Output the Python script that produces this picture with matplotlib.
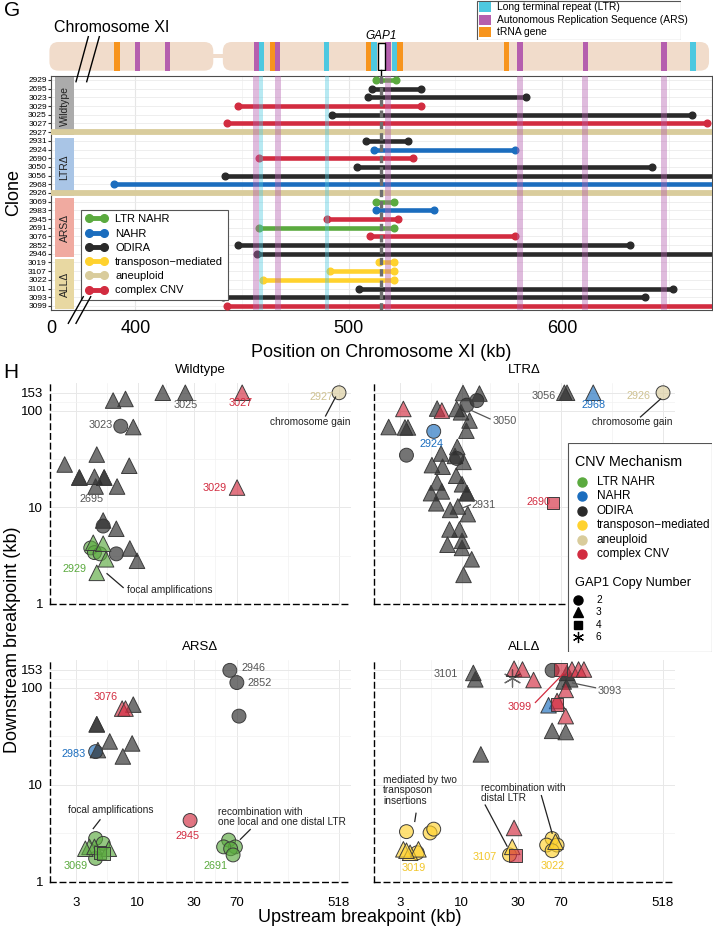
import numpy as np
import matplotlib.pyplot as plt
import matplotlib.colors as mcolors
import matplotlib.transforms as mtransforms
from matplotlib.patches import FancyBboxPatch, Rectangle
from matplotlib.lines import Line2D
from matplotlib.ticker import NullFormatter

plt.rcParams['font.family'] = ['Liberation Sans', 'DejaVu Sans']

W, H = 713, 933
fig = plt.figure(figsize=(W / 100, H / 100), dpi=100)


def box(l, t, r, b):
    # pixel box -> axes
    return fig.add_axes([l / W, 1 - b / H, (r - l) / W, (b - t) / H])


# ---------------- data ----------------
mech_names = ['LTR NAHR', 'NAHR', 'ODIRA', 'transposon\u2212mediated', 'aneuploid', 'complex CNV']
mech_codes = ['L', 'N', 'O', 'T', 'A', 'C']
mech_cols = ['#5BAA3F', '#1B6DBE', '#2A2A2A', '#FFD22E', '#D9CC9C', '#D22C40']
col = dict(zip(mech_codes, mech_cols))

clones = ['2929', '2695', '3023', '3029', '3025', '3027', '2927',
          '2931', '2924', '2690', '3050', '3056', '2968', '2926',
          '3069', '2983', '2945', '2691', '3076', '2852', '2946',
          '3019', '3107', '3022', '3101', '3093', '3099']
clone_mech = ['L', 'O', 'O', 'C', 'O', 'C', 'A',
              'O', 'N', 'C', 'O', 'O', 'N', 'A',
              'L', 'N', 'C', 'L', 'C', 'O', 'O',
              'T', 'T', 'T', 'O', 'O', 'C']
seg_start = [513, 511, 509, 448, 492, 443, 0,
             508, 512, 458, 504, 442, 390, 0,
             513, 513, 490, 458, 510, 448, 457,
             514, 491, 460, 505, 441, 443]
seg_end = [522, 534, 583, 534, 661, 668, 667,
           528, 578, 530, 642, 675, 675, 667,
           521, 540, 523, 521, 578, 632, 675,
           521, 521, 521, 652, 639, 675]

strains = ['Wildtype', 'LTR\u0394', 'ARS\u0394', 'ALL\u0394']
strain_n = [7, 7, 7, 6]
strain_cols = ['#ABABAB', '#A9C5E6', '#F0AAA0', '#E8D8A2']

trna_kb = [391.3, 464.4, 509.4, 524.0, 573.9]
ars_kb = [400.9, 415.0, 456.7, 466.7, 518.5, 580.3, 610.9, 647.9]
ltr_kb = [459.1, 489.6, 511.9, 521.5, 661.3]
ars_shade = [456.7, 466.7, 518.4, 580.3, 610.8, 647.8]
ltr_shade = [458.9, 489.7]
gap1_kb = (513.6, 516.9)
cen_left_kb, cen_right_kb = 436.5, 441.0
chr_end_kb = 668.9

# breakpoint scatter (upstream kb, downstream kb, mechanism, GAP1 copy number)
wt_up = [16.4, 25.5, 6.2, 7.9, 9.2, 7.2, 2.4, 4.5, 8.5, 3.2, 3.2, 4.3, 5.2, 5.2, 4.4, 6.7,
         5.1, 5.1, 6.6, 6.6, 8.6, 9.9,
         4.2, 5.1, 4.0, 4.3, 4.8, 5.4, 4.5, 77.7, 70.3, 518]
wt_down = [153, 153, 127, 132, 67.6, 69, 27.7, 35.1, 26.9, 20.3, 20.3, 20.7, 20.3, 20.3, 16.4, 16.4,
           7.3, 6.4, 6.0, 3.3, 3.75, 2.8,
           4.3, 4.2, 3.8, 3.4, 3.3, 2.9, 2.1, 153, 16.0, 153]
wt_mech = ['O'] * 22 + ['L'] * 7 + ['C', 'C', 'A']
wt_copy = [3, 3, 3, 3, 3, 2, 3, 3, 3, 3, 3, 3, 3, 3, 3, 3,
           3, 2, 3, 2, 3, 3,
           3, 3, 2, 2, 2, 3, 3, 3, 3, 2]

ltr_up = [10.3, 14.2, 13.5, 11.1, 9.1, 9.9, 11.7, 11.0, 6.2, 2.4, 3.3, 3.5, 3.4,
          9.2, 6.7, 8.8, 9.1, 10.4, 5.6, 6.9, 9.0, 6.2, 10.1, 5.5, 6.8, 11.1, 11.1,
          6.1, 8.0, 9.3, 11.3, 7.9, 9.6, 10.1, 7.6, 10.1, 12.2, 10.4, 75, 79,
          5.8, 132, 3.2, 6.8, 60, 518]
ltr_down = [152, 150, 127, 114, 104, 96, 79, 62, 105, 67.6, 67, 67, 34.6,
            42, 36, 34, 32, 29.5, 27.3, 26.3, 21.2, 18.1, 17.3, 14, 14.6, 14, 14,
            11.0, 9.4, 10.2, 8.5, 5.9, 5.9, 4.5, 4.1, 3.8, 2.9, 2.0, 153, 153,
            61, 153, 104, 100, 11.2, 153]
ltr_mech = ['O'] * 40 + ['N', 'N', 'C', 'C', 'C', 'A']
ltr_copy = [3, 3, 2, 2, 3, 3, 3, 3, 3, 3, 3, 3, 2,
            3, 3, 3, 2, 3, 3, 3, 3, 3, 3, 3, 3, 3, 3,
            3, 3, 3, 3, 3, 3, 3, 3, 3, 3, 3, 3, 3,
            2, 3, 3, 3, 4, 2]

ars_up = [61, 70, 73, 9.2, 4.5, 4.5, 5.8, 9.0, 4.6, 7.5,
          7.4, 7.9, 28, 4.4,
          4.4, 5.1, 4.4, 59.6, 68, 54, 62, 65, 3.9, 5.7, 3.6, 4.3, 4.8, 5.1]
ars_down = [151, 113, 51, 67, 42, 42, 28, 26.7, 22.8, 19.6,
            61, 61, 4.3, 22,
            2.8, 2.5, 1.75, 2.7, 2.3, 2.3, 2.2, 1.9, 2.3, 2.2, 2.2, 2.3, 2.0, 1.95]
ars_mech = ['O'] * 10 + ['C', 'C', 'C', 'N'] + ['L'] * 14
ars_copy = [2, 2, 2, 3, 3, 3, 3, 3, 3, 3,
            3, 3, 2, 2,
            2, 2, 2, 2, 2, 2, 2, 2, 3, 3, 3, 3, 4, 4]

all_up = [12.6, 13.1, 79, 84, 74, 59, 77, 14.6, 59, 26.8,
          28, 33, 41, 87, 99, 110, 77, 65, 77, 28, 70, 65, 28.7,
          55,
          3.4, 5.4, 5.8, 4.2, 25.6, 59, 53, 65, 59, 3.2, 3.65, 4.3, 3.4, 27, 63]
all_down = [142, 122, 142, 122, 116, 36, 35, 20.6, 151, 125,
            157, 154, 120, 154, 154, 154, 95, 73, 51, 3.6, 153, 67, 1.86,
            66,
            3.3, 3.2, 3.5, 2.0, 1.9, 2.8, 2.4, 2.4, 2.1, 2.17, 2.0, 2.17, 2.1, 2.3, 2.6]
all_mech = ['O'] * 10 + ['C'] * 13 + ['N'] + ['T'] * 15
all_copy = [3, 3, 3, 3, 3, 3, 3, 3, 2, 6,
            3, 3, 3, 3, 3, 3, 3, 3, 3, 3, 4, 4, 4,
            3,
            2, 2, 2, 2, 2, 2, 2, 2, 2, 3, 3, 3, 3, 3, 3]

copy_numbers = [2, 3, 4, 6]
copy_markers = {2: 'o', 3: '^', 4: 's', 6: (6, 2, 0)}
copy_sizes = {2: 100, 3: 125, 4: 85, 6: 150}

x_major = [3, 10, 30, 70, 518]
y_major = [1, 10, 100, 153]

# ---------------- panel G ----------------
XL = (360.4, 670.3)

# ideogram
axi = box(49, 41.7, 712, 71)
axi.set_xlim(359.5, XL[1])
axi.set_ylim(0, 13.74)
axi.axis('off')
peach = '#F1DCCB'
axi.add_patch(FancyBboxPatch((359.7, 0.15), cen_left_kb - 359.7, 13.45,
                             boxstyle='round,pad=0,rounding_size=4.2', fc=peach, ec='none'))
axi.add_patch(FancyBboxPatch((cen_right_kb, 0.15), chr_end_kb - cen_right_kb, 13.45,
                             boxstyle='round,pad=0,rounding_size=4.2', fc=peach, ec='none'))
axi.add_patch(Rectangle((cen_left_kb - 2, 5.9), cen_right_kb - cen_left_kb + 4, 1.9,
                        fc=peach, ec='none'))
for kb_list, c in [(trna_kb, '#F7941D'), (ars_kb, '#B55FAE'), (ltr_kb, '#4DC8E0')]:
    for k in kb_list:
        axi.add_patch(Rectangle((k - 1.3, 0.15), 2.6, 13.45, fc=c, ec='none'))
axi.add_patch(Rectangle((gap1_kb[0], 0.5), gap1_kb[1] - gap1_kb[0], 12.8, fc='white', ec='black', lw=1))
gmid = (gap1_kb[0] + gap1_kb[1]) / 2
axi.plot([gmid, gmid], [0.5, -2.8], color='black', lw=1, clip_on=False)
axi.text(gmid, 16.4, 'GAP1', style='italic', fontsize=8.5, ha='center', va='center')

# feature legend
axl = box(476, 0, 681, 40)
axl.set_xlim(0, 205)
axl.set_ylim(40, 0)
axl.axis('off')
axl.add_patch(Rectangle((0.5, 0.5), 204, 39, fc='white', ec='#555555', lw=0.8))
for i, (lab, c) in enumerate([('Long terminal repeat (LTR)', '#4DC8E0'),
                              ('Autonomous Replication Sequence (ARS)', '#B55FAE'),
                              ('tRNA gene', '#F7941D')]):
    yy = 7.3 + i * 12.5
    axl.add_patch(Rectangle((3, yy - 5), 12, 10, fc=c, ec='none'))
    axl.text(21, yy, lab, fontsize=7.4, va='center')

ax = box(51, 76, 712, 310)
ax.set_xlim(*XL)
ax.set_ylim(len(clones) - 0.53, -0.46)
rows = np.arange(len(clones))
ax.set_yticks(rows)
ax.set_yticklabels(clones)
ax.set_xticks([XL[0], 400, 500, 600])
ax.set_xticklabels(['0', '400', '500', '600'])
ax.set_xticks([450, 550, 650], minor=True)
ax.tick_params(axis='y', labelsize=6, length=2, pad=1, color='#333333')
ax.tick_params(axis='x', labelsize=13, length=0, pad=7)
ax.tick_params(axis='x', which='minor', length=0)
ax.grid(axis='y', color='#EBEBEB', lw=0.6, zorder=0)
ax.grid(axis='x', which='major', color='#E6E6E6', lw=0.8, zorder=0)
ax.grid(axis='x', which='minor', color='#F0F0F0', lw=0.5, zorder=0)
ax.set_axisbelow(True)
for s in ax.spines.values():
    s.set_color('#4D4D4D')
    s.set_linewidth(0.8)

trans = mtransforms.blended_transform_factory(ax.transAxes, ax.transData)
first = 0
for name, n, c in zip(strains, strain_n, strain_cols):
    ax.add_patch(Rectangle((0.006, first - 0.38), 0.029, n - 1 + 0.72, transform=trans,
                           fc=c, ec='none', zorder=1))
    ax.text(0.0205, first + (n - 1) / 2, name, transform=trans, rotation=90, ha='center',
            va='center', fontsize=7.5, color='#222222', zorder=2)
    first += n

for i, (s, e, m) in enumerate(zip(seg_start, seg_end, clone_mech)):
    if m == 'A':
        ax.axhline(i, color=col[m], lw=4.2, zorder=3)
    else:
        ax.plot([s, e], [i, i], color=col[m], lw=3.3, solid_capstyle='butt', zorder=3)
        ax.plot([s, e], [i, i], 'o', color=col[m], ms=4.8, zorder=3)

for k in ars_shade:
    ax.axvspan(k - 1.4, k + 1.4, color='#B55FAE', alpha=0.42, lw=0, zorder=4)
for k in ltr_shade:
    ax.axvspan(k - 1.0, k + 1.0, color='#4DC8E0', alpha=0.4, lw=0, zorder=4)
ax.axvline(gmid, color='#6E6E6E', lw=2.4, ls=(0, (2.2, 1.2)), zorder=5)

handles = [Line2D([], [], color=c, lw=3.5, marker='o', ms=5.5) for c in mech_cols]
leg = ax.legend(handles, mech_names, loc='lower left', bbox_to_anchor=(0.045, 0.043),
                fontsize=8, frameon=True, fancybox=False, edgecolor='#555555', framealpha=1,
                handlelength=2.0, numpoints=2, borderpad=0.4, labelspacing=0.38,
                handletextpad=0.7, borderaxespad=0)
leg.set_zorder(10)
leg.get_frame().set_linewidth(0.8)

ax.set_xlabel('Position on Chromosome XI (kb)', fontsize=13, labelpad=5)
ax.set_ylabel('Clone', fontsize=13, labelpad=4)

fig.text(12 / W, 1 - 10 / H, 'G', fontsize=15, ha='center', va='center')
fig.text(112 / W, 1 - 27 / H, 'Chromosome XI', fontsize=11.5, ha='center', va='center')
fig.text(11 / W, 1 - 372 / H, 'H', fontsize=15, ha='center', va='center')

pxt = mtransforms.Affine2D().scale(1 / W, -1 / H).translate(0, 1) + fig.transFigure
for (x0, y0, x1, y1) in [(88.3, 36.7, 76, 81.7), (99.3, 36.7, 86.7, 81.7),
                         (83.3, 296.7, 68.3, 323.3), (90.7, 296.7, 76, 323.3)]:
    fig.add_artist(Line2D([x0, x1], [y0, y1], transform=pxt, color='black', lw=1))

# ---------------- panel H ----------------
panels = [
    ('Wildtype', (50, 383, 351, 604), wt_up, wt_down, wt_mech, wt_copy, True, False),
    ('LTR\u0394', (374, 383, 675, 604), ltr_up, ltr_down, ltr_mech, ltr_copy, False, False),
    ('ARS\u0394', (50, 660, 351, 882), ars_up, ars_down, ars_mech, ars_copy, True, True),
    ('ALL\u0394', (374, 660, 675, 882), all_up, all_down, all_mech, all_copy, False, True),
]
edge = '#3C3C3C'
axes_h = {}
for title, pos, up, down, mech, copy, ylab, xlab in panels:
    a = box(*pos)
    axes_h[title] = a
    a.set_xscale('log')
    a.set_yscale('log')
    a.set_xlim(1.8, 655)
    a.set_ylim(1.08, 193)
    a.set_xticks(x_major)
    a.set_xticklabels([str(v) for v in x_major])
    a.set_yticks(y_major)
    a.set_yticklabels([str(v) for v in y_major])
    a.set_xticks([5.48, 17.3, 45.8, 190], minor=True)
    a.set_yticks([3.16, 31.6, 123.7], minor=True)
    a.xaxis.set_minor_formatter(NullFormatter())
    a.yaxis.set_minor_formatter(NullFormatter())
    a.tick_params(which='both', length=0, labelsize=9.5)
    a.tick_params(axis='y', pad=5, labelleft=ylab)
    a.tick_params(axis='x', pad=11, labelbottom=xlab)
    a.grid(which='major', color='#E8E8E8', lw=0.7)
    a.grid(which='minor', color='#F2F2F2', lw=0.5)
    a.set_axisbelow(True)
    for s in ['top', 'right']:
        a.spines[s].set_visible(False)
    for s in ['left', 'bottom']:
        a.spines[s].set_linestyle((0, (4, 3)))
        a.spines[s].set_linewidth(1)
        a.spines[s].set_color('black')
    a.set_title(title, fontsize=9.5, pad=7)
    up = np.array(up)
    down = np.array(down)
    for cn in copy_numbers:
        idx = [i for i, c in enumerate(copy) if c == cn]
        if not idx:
            continue
        fc = [mcolors.to_rgba(col[mech[i]], 0.65) for i in idx]
        if cn == 6:
            a.scatter(up[idx], down[idx], marker=copy_markers[cn], s=copy_sizes[cn],
                      color=[col[mech[i]] for i in idx], alpha=0.7, lw=0.9, zorder=3)
        else:
            a.scatter(up[idx], down[idx], marker=copy_markers[cn], s=copy_sizes[cn],
                      facecolors=fc, edgecolors=edge, linewidths=0.7, zorder=3)

gray_txt = '#555555'
notes = [
    ('Wildtype', '3025', 25.5, 114, 'center', gray_txt),
    ('Wildtype', '3027', 75, 120, 'center', col['C']),
    ('Wildtype', '2927', 466, 138, 'right', '#CFC291'),
    ('Wildtype', 'chromosome gain', 297, 76.6, 'center', '#222222'),
    ('Wildtype', '3023', 6.2, 71, 'right', gray_txt),
    ('Wildtype', '2695', 4.1, 12.1, 'center', gray_txt),
    ('Wildtype', '3029', 57, 15.7, 'right', col['C']),
    ('Wildtype', '2929', 3.7, 2.32, 'right', col['L']),
    ('Wildtype', 'focal amplifications', 8.2, 1.38, 'left', '#222222'),
    ('LTR\u0394', '3056', 63, 141, 'right', gray_txt),
    ('LTR\u0394', '2968', 132, 114, 'center', col['N']),
    ('LTR\u0394', '2926', 405, 141, 'right', '#CFC291'),
    ('LTR\u0394', 'chromosome gain', 285, 76.6, 'center', '#222222'),
    ('LTR\u0394', '3050', 18.2, 78, 'left', gray_txt),
    ('LTR\u0394', '2924', 5.6, 45.5, 'center', col['N']),
    ('LTR\u0394', '2931', 12.1, 10.5, 'left', gray_txt),
    ('LTR\u0394', '2690', 57, 11.3, 'right', col['C']),
    ('ARS\u0394', '2946', 76.5, 158, 'left', gray_txt),
    ('ARS\u0394', '2852', 86, 112, 'left', gray_txt),
    ('ARS\u0394', '3076', 6.8, 81, 'right', col['C']),
    ('ARS\u0394', '2983', 3.6, 20.7, 'right', col['N']),
    ('ARS\u0394', '2945', 26.5, 2.95, 'center', col['C']),
    ('ARS\u0394', '3069', 3.8, 1.47, 'right', col['L']),
    ('ARS\u0394', '2691', 58, 1.47, 'right', col['L']),
    ('ARS\u0394', 'focal amplifications', 5.96, 5.5, 'center', '#222222'),
    ('ARS\u0394', 'recombination with\none local and one distal LTR', 48.8, 4.69, 'left', '#222222'),
    ('ALL\u0394', '3101', 9.4, 138, 'right', gray_txt),
    ('ALL\u0394', '3099', 31, 63, 'center', col['C']),
    ('ALL\u0394', '3093', 143, 93, 'left', gray_txt),
    ('ALL\u0394', 'mediated by two\ntransposon\ninsertions', 2.15, 8.8, 'left', '#222222'),
    ('ALL\u0394', '3019', 3.95, 1.41, 'center', '#F2C62A'),
    ('ALL\u0394', 'recombination with\ndistal LTR', 14.6, 8.3, 'left', '#222222'),
    ('ALL\u0394', '3107', 20.1, 1.79, 'right', '#F2C62A'),
    ('ALL\u0394', '3022', 59.6, 1.47, 'center', '#F2C62A'),
]
for p, t, x, y, ha, c in notes:
    fs = 7.8 if t[0].isdigit() else 7.3
    axes_h[p].text(x, y, t, ha=ha, va='center', fontsize=fs, color=c, zorder=5,
                   linespacing=1.05)

links = [
    ('Wildtype', 484, 138, 398, 88, '#222222'),
    ('Wildtype', 5.5, 2.06, 7.55, 1.48, '#222222'),
    ('LTR\u0394', 494, 132, 333, 86, '#222222'),
    ('LTR\u0394', 12.2, 100, 17.5, 82, '#555555'),
    ('LTR\u0394', 10.1, 9.8, 11.9, 10.6, '#555555'),
    ('ARS\u0394', 4.2, 3.55, 4.8, 4.37, '#222222'),
    ('ARS\u0394', 75, 2.75, 91, 3.47, '#222222'),
    ('ALL\u0394', 42.5, 70.5, 74, 141, col['C']),
    ('ALL\u0394', 88, 112, 138, 100, '#555555'),
    ('ALL\u0394', 4.0, 4.2, 4.1, 5.1, '#222222'),
    ('ALL\u0394', 24.4, 2.34, 15.9, 6.2, '#222222'),
    ('ALL\u0394', 59, 3.18, 47.8, 7.75, '#222222'),
]
for p, x0, y0, x1, y1, c in links:
    axes_h[p].plot([x0, x1], [y0, y1], color=c, lw=0.9, zorder=4)

fig.text(360 / W, 1 - 918 / H, 'Upstream breakpoint (kb)', fontsize=13, ha='center', va='center')
fig.text(13 / W, 1 - 640 / H, 'Downstream breakpoint (kb)', fontsize=13, ha='center',
         va='center', rotation=90)

# mechanism / copy number legend
al = box(567, 443, 712, 652)
al.set_xlim(0, 145)
al.set_ylim(209, 0)
al.axis('off')
al.add_patch(Rectangle((0.5, 0.5), 144, 208, fc='white', ec='#555555', lw=0.8))
al.text(8, 19, 'CNV Mechanism', fontsize=10.3, va='center')
for i, (name, c) in enumerate(zip(mech_names, mech_cols)):
    yy = 38.7 + i * 14.45
    al.plot(14.7, yy, 'o', color=c, ms=6.5)
    al.text(29.7, yy, name, fontsize=8.5, va='center')
al.text(8, 139.7, 'GAP1 Copy Number', fontsize=9.2, va='center')
for i, cn in enumerate(copy_numbers):
    yy = 157 + i * 12.4
    if cn == 6:
        al.plot(11.3, yy, marker=copy_markers[cn], color='black', ms=8, mew=0.9, ls='none')
    else:
        al.plot(11.3, yy, marker=copy_markers[cn], color='black', ms=6.5 if cn != 4 else 5.5,
                ls='none')
    al.text(29, yy, str(cn), fontsize=7.3, va='center')

fig.savefig('out.png', dpi=100)
